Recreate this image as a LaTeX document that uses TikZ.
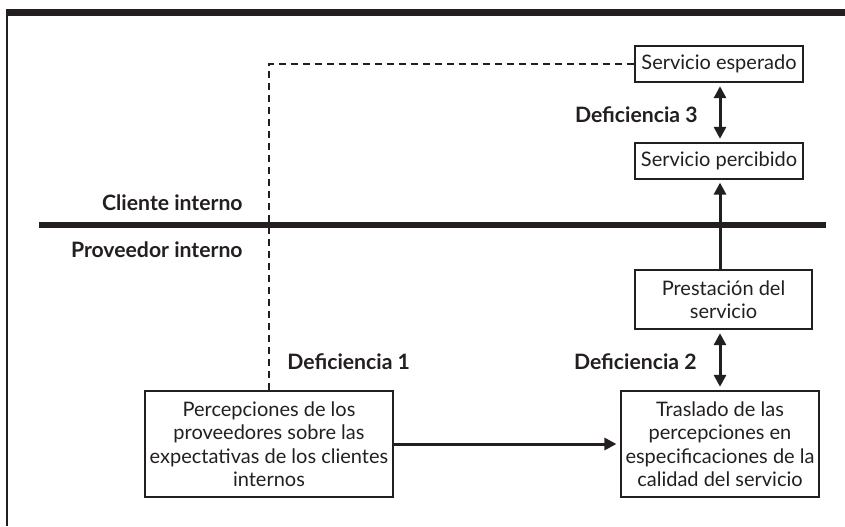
\documentclass[tikz,border=0pt]{standalone}
\usepackage{fontspec}
\setmainfont{Lato}
\usetikzlibrary{arrows.meta,positioning}
\definecolor{tinta}{HTML}{231F20}

\begin{document}
\begin{tikzpicture}[x=0.5pt,y=-0.5pt,
  caja/.style={draw=tinta, line width=0.6pt, align=center, inner sep=0pt,
    text=tinta, font=\fontsize{10}{11.75}\selectfont},
  etiqueta/.style={text=tinta, inner sep=0pt, font=\bfseries\fontsize{10.6}{11}\selectfont},
  flecha/.style={draw=tinta, line width=1.5pt, -{Triangle[length=6pt,width=6pt]}},
  doble/.style={draw=tinta, line width=1.5pt,
    {Triangle[length=6pt,width=6pt]}-{Triangle[length=6pt,width=6pt]},
    shorten <=1.8pt, shorten >=1.8pt},
  punteada/.style={draw=tinta, line width=1pt, dash pattern=on 3.5pt off 2.5pt}
]
  \useasboundingbox (0,0) rectangle (845,526);

  % Marco
  \fill[tinta] (6,9) rectangle (845,16);
  \draw[tinta, line width=0.65pt] (7,12) -- (7,526);

  % Division cliente / proveedor
  \draw[tinta, line width=3pt] (39,225) -- (826,225);
  \node[etiqueta, anchor=east] (cliente) at (243,203) {Cliente interno};
  \node[etiqueta, anchor=east] (proveedor) at (243,250) {Proveedor interno};

  % Cajas
  \node[caja, minimum width=84pt, minimum height=18pt] (esperado) at (719,64) {Servicio esperado};
  \node[caja, minimum width=84pt, minimum height=18pt] (percibido) at (719,161) {Servicio percibido};
  \node[caja, minimum width=88.5pt, minimum height=29.5pt] (prestacion) at (723.5,299.5) {Prestación del\\servicio};
  \node[caja, minimum width=99pt, minimum height=53pt] (traslado) at (720,444)
    {Traslado de las\\percepciones en\\especificaciones de la\\calidad del servicio};
  \node[caja, minimum width=124pt, minimum height=53pt] (percepciones) at (269,444)
    {Percepciones de los\\proveedores sobre las\\expectativas de los clientes\\internos};

  % Deficiencias
  \node[etiqueta, anchor=east] (def3) at (698,115) {Deficiencia 3};
  \node[etiqueta, anchor=east] (def2) at (697,362) {Deficiencia 2};
  \node[etiqueta, anchor=west] (def1) at (287,362) {Deficiencia 1};

  % Conectores
  \draw[doble] (esperado.south -| 720,0) -- (percibido.north -| 720,0);
  \draw[flecha, shorten >=1.5pt] (prestacion.north -| 720,0) -- (percibido.south -| 720,0);
  \draw[doble] (prestacion.south -| 720,0) -- (traslado.north -| 720,0);
  \draw[flecha, shorten >=2pt] (percepciones.east) -- (traslado.west);
  \draw[punteada] (percepciones.north) |- (esperado.west);
\end{tikzpicture}
\end{document}
